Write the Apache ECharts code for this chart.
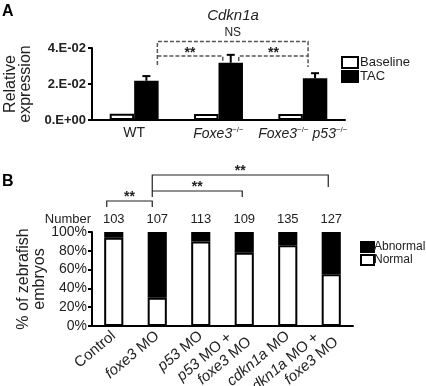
<!DOCTYPE html>
<html>
<head>
<meta charset="utf-8">
<script src="https://cdn.jsdelivr.net/npm/echarts@6/dist/echarts.min.js"></script>
<style>
  html, body { margin: 0; padding: 0; background: #fff; }
  #chart { width: 426px; height: 386px; }
</style>
</head>
<body>
<div id="chart"></div>
<script>
// panel A - Cdkn1a relative expression
const catsA = ['WT', 'Foxe3', 'Foxe3 p53'];
const baseline = [0.0035, 0.0033, 0.0033];
const tac = [0.0218, 0.0318, 0.0232];
const tacErr = [0.0244, 0.0362, 0.0260];
const yTicksA = ['0.E+00', '2.E-02', '4.E-02'];

// panel B - zebrafish embryos
const catsB = ['Control', 'foxe3 MO', 'p53 MO', 'p53 MO +\nfoxe3 MO', 'cdkn1a MO', 'cdkn1a MO +\nfoxe3 MO'];
const normal = [94, 30, 90, 78, 86, 55];
const abnormal = [6, 70, 10, 22, 14, 45];
const counts = [103, 107, 113, 109, 135, 127];

const FONT = 'Liberation Sans, Arial, sans-serif';
const TXT = '#222';
const GAP_A = 0.42;

let chart = echarts.init(document.getElementById('chart'));

const labelA = {
  'WT': 'WT',
  'Foxe3': '{i|Foxe3}{s|−/−}',
  'Foxe3 p53': '{i|Foxe3}{s|−/−} {i|p53}{s|−/−}'
};

// italic gene names, first line of two-line labels pushed back a little
function labelB(v) {
  let lines = v.split('\n').map(l => l.replace(/(foxe3|p53|cdkn1a)/g, '{i|$1}'));
  if (lines.length > 1) lines[0] = lines[0] + '{pad|}';
  return lines.join('\n');
}

const axisLineStyle = { lineStyle: { color: '#000', width: 2 } };

let option = {
  backgroundColor: '#fff',
  animation: false,
  textStyle: { fontFamily: FONT },
  title: {
    text: 'Cdkn1a',
    left: 228,
    top: 3,
    textAlign: 'center',
    textStyle: { fontSize: 15, fontStyle: 'italic', fontWeight: 'normal', color: TXT, fontFamily: FONT }
  },
  grid: [
    { left: 92, top: 48, width: 253, height: 72, containLabel: false, outerBoundsMode: 'none' },
    { left: 92, top: 232, width: 261, height: 94, containLabel: false, outerBoundsMode: 'none' }
  ],
  legend: [
    {
      data: ['Baseline', 'TAC'],
      orient: 'vertical', left: 341, top: 56, padding: 0,
      itemWidth: 16, itemHeight: 11, itemGap: 1,
      icon: 'rect',
      textStyle: { fontSize: 13, color: TXT, lineHeight: 12, padding: [0, 0, 0, -3] }
    },
    {
      data: ['Abnormal', 'Normal'],
      orient: 'vertical', left: 360, top: 241, padding: 0,
      itemWidth: 13, itemHeight: 10, itemGap: 1,
      icon: 'rect',
      textStyle: { fontSize: 12, color: TXT, lineHeight: 11, padding: [0, 0, 0, -5] }
    }
  ],
  xAxis: [
    {
      gridIndex: 0, type: 'category', data: catsA,
      axisLine: axisLineStyle,
      axisTick: { length: 5, lineStyle: { width: 2, color: '#000' } },
      axisLabel: {
        margin: 6, fontSize: 14, color: TXT, interval: 0,
        formatter: (v) => labelA[v],
        rich: {
          i: { fontSize: 14, fontStyle: 'italic', color: TXT, lineHeight: 16 },
          s: { fontSize: 8, color: TXT, verticalAlign: 'top', lineHeight: 9 }
        }
      }
    },
    {
      gridIndex: 1, type: 'category', data: catsB,
      axisLine: axisLineStyle,
      axisTick: { length: 5, lineStyle: { width: 2, color: '#000' } },
      axisLabel: {
        margin: 8, fontSize: 15, color: TXT, rotate: 40, interval: 0, lineHeight: 16,
        formatter: labelB,
        rich: {
          i: { fontSize: 15, fontStyle: 'italic', color: TXT, lineHeight: 16 },
          pad: { width: 12 }
        }
      }
    }
  ],
  yAxis: [
    {
      gridIndex: 0, type: 'value', min: 0, max: 0.04, interval: 0.02,
      name: 'Relative\nexpression', nameLocation: 'middle', nameGap: 59, nameMoveOverlap: false,
      nameTextStyle: { fontSize: 16, color: TXT, lineHeight: 15 },
      axisLine: { show: true, lineStyle: { color: '#000', width: 2 } },
      axisTick: { show: true, length: 4, lineStyle: { width: 2, color: '#000' } },
      splitLine: { show: false },
      axisLabel: {
        margin: 6, fontSize: 13, fontWeight: 'bold', color: TXT,
        showMinLabel: true, showMaxLabel: true,
        formatter: (v, i) => yTicksA[i]
      }
    },
    {
      gridIndex: 1, type: 'value', min: 0, max: 100, interval: 20,
      name: '% of zebrafish\nembryos', nameLocation: 'middle', nameGap: 44, nameMoveOverlap: false,
      nameTextStyle: { fontSize: 16, color: TXT, lineHeight: 16 },
      axisLine: { show: true, lineStyle: { color: '#000', width: 2 } },
      axisTick: { show: true, length: 4, lineStyle: { width: 2, color: '#000' } },
      splitLine: { show: false },
      axisLabel: {
        margin: 5, fontSize: 14, color: TXT, formatter: '{value}%',
        showMinLabel: true, showMaxLabel: true
      }
    }
  ],
  series: [
    {
      name: 'Baseline', type: 'bar', xAxisIndex: 0, yAxisIndex: 0,
      data: baseline, barGap: '0%', barCategoryGap: (GAP_A * 100) + '%',
      itemStyle: { color: '#fff', borderColor: '#000', borderWidth: 2 }
    },
    {
      name: 'TAC', type: 'bar', xAxisIndex: 0, yAxisIndex: 0,
      data: tac, barGap: '0%', barCategoryGap: (GAP_A * 100) + '%',
      itemStyle: { color: '#000', borderColor: '#000', borderWidth: 2 }
    },
    {
      // TAC error bars (upper half)
      type: 'custom', xAxisIndex: 0, yAxisIndex: 0, z: 5,
      data: tac.map((v, i) => [i, v, tacErr[i]]),
      renderItem: function (params, api) {
        let base = api.coord([api.value(0), api.value(1)]);
        let top = api.coord([api.value(0), api.value(2)]);
        let band = api.size([1, 0])[0];
        let x = base[0] + band * (1 - GAP_A) / 4;
        let st = { stroke: '#000', lineWidth: 2 };
        return {
          type: 'group',
          children: [
            { type: 'line', shape: { x1: x, y1: base[1], x2: x, y2: top[1] }, style: st },
            { type: 'line', shape: { x1: x - 4, y1: top[1], x2: x + 4, y2: top[1] }, style: st }
          ]
        };
      }
    },
    {
      name: 'Normal', type: 'bar', xAxisIndex: 1, yAxisIndex: 1, stack: 'b',
      data: normal, barCategoryGap: '56%',
      itemStyle: { color: '#fff', borderColor: '#000', borderWidth: 2 }
    },
    {
      name: 'Abnormal', type: 'bar', xAxisIndex: 1, yAxisIndex: 1, stack: 'b',
      data: abnormal, barCategoryGap: '56%',
      itemStyle: { color: '#000', borderColor: '#000', borderWidth: 2 },
      label: {
        show: true, position: 'top', distance: 6, fontSize: 13, color: TXT,
        formatter: (p) => counts[p.dataIndex]
      }
    }
  ]
};
chart.setOption(option);

// significance brackets and panel letters
function xA(i) { return chart.convertToPixel({ xAxisIndex: 0 }, i); }
function xB(i) { return chart.convertToPixel({ xAxisIndex: 1 }, i); }
let bandA = xA(1) - xA(0);
let tacX = (i) => xA(i) + bandA * (1 - GAP_A) / 4;

let dash = { stroke: '#555', lineWidth: 1.5, lineDash: [4, 2], fill: null };
let solid = { stroke: '#222', lineWidth: 1.2, fill: null };
let star = (x, y, s) => ({
  type: 'text', x: x, y: y,
  style: { text: s || '**', fontSize: 14, fontWeight: 'bold', fill: TXT, align: 'center', verticalAlign: 'middle', fontFamily: FONT }
});
let bracket = (x1, x2, y, l1, l2, style) => ({
  type: 'polyline', shape: { points: [[x1, l1], [x1, y], [x2, y], [x2, l2]] }, style: style
});

let aL = tacX(0) + 11, aM1 = tacX(1) - 8, aM2 = tacX(1) + 8, aR = tacX(2) - 7;
let b0 = xB(0) - 7, b1 = xB(1) - 5, b3 = xB(3) - 2, b5 = xB(5) - 3;

chart.setOption({
  graphic: [
    { type: 'text', x: 2, y: 4, style: { text: 'A', fontSize: 16, fontWeight: 'bold', fill: '#000', fontFamily: FONT } },
    { type: 'text', x: 2, y: 174, style: { text: 'B', fontSize: 16, fontWeight: 'bold', fill: '#000', fontFamily: FONT } },
    bracket(aL, aR, 41.5, 65, 67, dash),
    bracket(aL, aM1, 56, 56, 61, dash),
    bracket(aM2, aR, 56, 61, 56, dash),
    star((aL + aM1) / 2, 53),
    star((aM2 + aR) / 2, 53),
    { type: 'text', x: (aL + aR) / 2, y: 33, style: { text: 'NS', fontSize: 12, fill: TXT, align: 'center', verticalAlign: 'middle', fontFamily: FONT } },
    bracket(b1, b5, 175, 197, 187, solid),
    bracket(b1, b3, 191, 191, 197, solid),
    bracket(b0, b1, 201, 207, 207, solid),
    star((b1 + b5) / 2, 171),
    star((b1 + b3) / 2, 187),
    star((b0 + b1) / 2, 197),
    { type: 'text', x: 91, y: 219, style: { text: 'Number', fontSize: 13, fill: TXT, align: 'right', verticalAlign: 'middle', fontFamily: FONT } }
  ]
});
</script>
</body>
</html>
